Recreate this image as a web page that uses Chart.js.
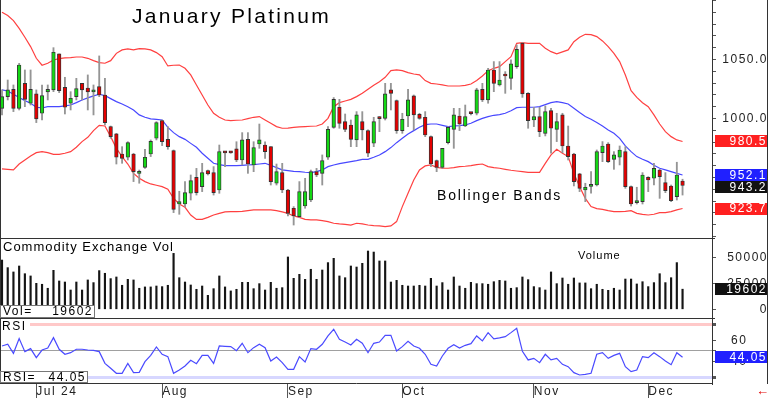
<!DOCTYPE html>
<html>
<head>
<meta charset="utf-8">
<script src="https://cdn.jsdelivr.net/npm/chart.js"></script>
<style>
  body { margin: 0; background: #fff; font-family: "Liberation Sans", Arial, sans-serif; }
  #wrap { position: relative; width: 768px; height: 398px; overflow: hidden; }
  canvas { position: absolute; left: 0; }
  .t { position: absolute; white-space: nowrap; color: #000; line-height: 1; }
  .ln { position: absolute; background: #333; }
  .box { position: absolute; left: 0; background: #fff; border: 1px solid #777; box-sizing: border-box;
         display: flex; justify-content: space-between; font-size: 12px; line-height: 11px;
         letter-spacing: 1.5px; padding: 0 1px 0 2px; }
</style>
</head>
<body>
<div id="wrap">
  <canvas id="priceChart" width="768" height="238" style="top:0"></canvas>
  <canvas id="volChart" width="768" height="80" style="top:238px"></canvas>
  <canvas id="rsiChart" width="768" height="80" style="top:318px"></canvas>

  <div class="ln" style="left:0;top:238px;width:715px;height:1px"></div>
  <div class="ln" style="left:0;top:318px;width:715px;height:1px"></div>
  <div class="ln" style="left:0;top:0;width:1px;height:384px"></div>
  <div class="ln" style="left:767px;top:0;width:1px;height:384px"></div>

  <div class="t" style="left:132px;top:5px;font-size:21px;letter-spacing:2.3px">January Platinum</div>
  <div class="t" style="left:437px;top:188px;font-size:14px;letter-spacing:1.8px">Bollinger Bands</div>
  <div class="t" style="left:3px;top:240px;font-size:13px;letter-spacing:1px">Commodity Exchange Vol</div>
  <div class="t" style="left:578px;top:250px;font-size:11px;letter-spacing:1px">Volume</div>
  <div class="box" style="top:305px;width:95px;height:13px"><span>Vol=</span><span id="volVal"></span></div>
  <div class="t" style="left:1px;top:320px;font-size:12px;letter-spacing:1.5px;background:#fff;padding:0 3px 0 1px">RSI</div>
  <div class="box" style="top:371px;width:88px;height:12px"><span>RSI=</span><span id="rsiVal"></span></div>
  <div class="t" style="left:756px;top:384px;font-size:13px;color:#e00000;font-weight:bold">&#8592;</div>
</div>

<script>
// daily candles, Jun 21 2024 .. Dec 10 2024
const open = [1008.6,1018.5,1024.7,1008.6,1029.8,1012.9,1020.8,1004.4,1022.5,1024.2,
  1054.7,1026.4,1012.9,1018.5,1029.8,1025.8,1022.5,1027.0,1019.9,993.1,
  986.9,969.9,967.1,969.9,953.5,958.6,969.9,983.2,998.2,982.3,
  972.7,927.5,927.5,936.6,950.1,942.2,955.8,954.1,939.4,971.3,
  971.3,974.2,964.8,982.3,960.6,978.4,977.5,976.1,945.1,954.1,
  939.4,923.9,916.8,925.8,930.9,954.9,953.5,967.1,992.5,1009.5,
  997.3,994.5,981.8,997.3,989.7,979.0,1000.4,1000.1,1024.2,1015.1,
  989.7,1002.1,1019.1,1003.5,1001.0,984.6,964.3,958.6,979.5,990.8,
  1002.1,993.6,1004.7,1004.4,1024.7,1015.7,1041.1,1028.4,1037.7,1034.0,
  1043.9,1063.7,1021.3,998.7,1001.6,987.4,1006.6,990.8,1003.0,976.7,
  969.9,953.0,939.4,942.5,943.6,971.0,978.4,965.4,967.1,971.9,
  942.2,928.7,929.5,950.1,949.3,956.3,945.6,942.8,933.8,947.0];
const high = [1024.2,1032.6,1028.4,1046.7,1041.1,1041.1,1024.2,1028.4,1028.4,1060.0,
  1054.7,1034.9,1022.7,1034.0,1029.8,1036.9,1028.4,1053.0,1034.0,993.6,
  987.4,976.1,980.3,970.5,956.3,973.9,981.8,997.3,998.7,993.1,
  973.3,938.3,946.5,952.1,957.7,962.0,956.3,959.2,977.5,971.9,
  971.9,980.3,988.0,988.0,980.3,995.3,980.3,976.1,961.4,962.0,
  940.0,925.3,946.5,949.3,956.3,957.7,969.1,993.1,1017.7,1016.2,
  1003.8,998.7,1005.8,1005.8,990.3,1001.0,1001.6,1029.8,1029.8,1015.7,
  1004.4,1024.7,1019.9,1004.4,1005.8,985.2,964.8,974.7,993.1,1008.6,
  1008.6,1011.4,1005.2,1025.6,1029.8,1042.5,1048.2,1048.2,1039.7,1049.6,
  1062.3,1064.3,1021.9,1009.5,1009.5,1010.6,1008.6,1004.4,1004.4,993.6,
  970.5,953.5,945.1,954.9,973.3,980.4,979.5,971.9,976.7,976.1,
  942.8,941.7,954.1,950.7,962.0,956.9,954.1,943.6,962.9,948.5];
const low = [1003.0,1015.7,1005.8,1007.2,1010.0,1011.4,996.5,998.7,1015.7,1022.7,
  1021.9,1003.8,1007.2,1015.7,1015.7,1007.2,1003.0,1018.5,994.5,983.2,
  961.4,962.0,964.8,946.5,945.1,957.7,967.7,981.8,977.0,973.9,
  920.2,918.8,925.0,930.9,935.1,938.0,952.1,935.1,936.6,959.2,
  970.5,963.4,960.6,953.5,954.9,974.7,966.2,943.6,943.6,937.1,
  917.4,909.7,916.2,923.9,929.5,950.7,943.6,965.4,991.7,991.7,
  988.8,976.1,976.1,981.8,967.7,976.1,988.8,998.7,1007.2,987.4,
  987.4,993.1,990.3,999.3,984.6,959.2,954.9,957.7,978.4,974.7,
  989.7,993.1,1003.0,1003.0,1014.3,1012.9,1022.7,1027.5,1021.3,1024.7,
  1042.5,1017.9,991.7,993.1,984.6,985.2,970.5,980.4,971.0,964.8,
  942.8,938.0,929.5,936.6,942.8,963.4,962.6,956.9,960.6,940.8,
  925.8,927.5,927.5,938.0,943.6,932.3,937.1,929.5,930.9,935.1];
const close = [1018.5,1024.2,1008.6,1045.3,1016.2,1024.7,999.6,1019.4,1024.7,1056.1,
  1023.6,1009.5,1017.1,1025.3,1024.2,1022.5,1023.0,1019.9,996.5,984.6,
  967.1,966.2,979.5,954.9,954.1,967.1,980.6,996.5,980.4,976.1,
  923.0,929.5,937.1,947.3,937.1,954.1,953.0,937.1,971.9,970.8,
  970.8,964.8,981.8,961.4,975.3,981.8,971.9,946.5,954.9,939.4,
  919.6,917.4,938.0,938.0,954.9,952.1,964.3,990.8,1016.2,995.9,
  990.8,982.3,1003.0,990.3,970.5,997.3,999.9,1020.8,1021.3,989.7,
  999.3,1015.7,1003.0,1000.1,986.0,961.4,958.6,974.7,992.5,1003.0,
  995.3,1001.6,1004.1,1024.2,1015.7,1041.1,1029.8,1032.6,1036.0,1046.2,
  1058.6,1020.8,998.2,1001.6,988.8,1005.8,991.7,997.3,976.7,967.7,
  946.5,940.8,941.7,943.1,971.9,976.7,963.4,969.1,973.3,942.2,
  927.5,929.2,952.1,947.9,957.7,950.7,938.8,930.4,952.1,943.2];

const upperBand = [1090.0,1087.2,1082.9,1076.4,1068.8,1060.9,1051.0,1045.1,1046.8,1049.6,
  1050.7,1051.3,1051.6,1052.1,1052.1,1051.0,1049.0,1047.3,1046.8,1049.0,
  1055.2,1058.1,1058.9,1058.1,1059.2,1058.9,1058.1,1055.8,1052.4,1044.5,
  1045.1,1045.3,1042.5,1036.9,1028.4,1019.9,1011.4,1004.4,1001.0,998.7,
  998.2,998.5,998.7,999.9,1001.0,1001.6,998.7,995.9,993.1,991.7,
  991.9,992.5,992.8,993.1,993.4,993.6,995.3,1000.1,1010.0,1013.4,
  1014.8,1016.2,1018.5,1021.3,1024.7,1028.1,1031.2,1034.9,1040.5,1041.1,
  1040.5,1038.8,1037.7,1036.9,1032.1,1029.8,1029.2,1028.4,1027.5,1027.5,
  1027.5,1028.1,1029.2,1032.1,1036.0,1040.5,1042.5,1043.9,1048.2,1052.4,
  1063.7,1064.3,1063.7,1063.7,1063.7,1059.5,1056.6,1054.7,1056.4,1058.1,
  1065.1,1068.8,1071.3,1071.1,1069.4,1065.7,1060.9,1055.2,1048.2,1036.9,
  1023.6,1017.9,1013.4,1010.0,1003.0,995.3,988.8,984.6,981.8,980.5];
const middleBand = [1024.2,1023.3,1020.5,1017.7,1015.1,1012.9,1009.5,1008.9,1010.0,1010.0,
  1010.0,1010.6,1011.4,1013.4,1015.7,1017.4,1019.1,1020.5,1019.4,1016.8,
  1014.3,1012.3,1010.0,1007.2,1003.0,1001.0,999.6,999.3,998.7,992.5,
  988.0,984.6,982.3,978.9,975.6,970.5,966.3,962.0,960.9,960.0,
  960.0,960.0,960.3,960.6,960.9,961.4,962.0,960.3,958.3,956.4,
  955.8,955.2,954.9,954.4,954.1,954.9,956.4,959.2,960.6,961.7,
  962.6,963.4,964.3,965.4,965.4,967.1,969.1,971.9,975.3,979.5,
  983.2,986.9,989.7,992.5,994.8,995.3,995.3,994.2,993.1,993.6,
  993.9,994.5,995.9,998.2,1000.1,1001.6,1002.7,1003.3,1004.4,1006.6,
  1009.2,1009.5,1009.5,1009.5,1010.0,1011.7,1013.4,1014.3,1013.4,1012.3,
  1008.6,1005.0,1001.6,999.3,996.5,993.6,990.3,987.4,983.2,976.7,
  971.9,967.7,965.4,963.4,960.3,957.8,956.4,954.9,953.5,952.1];
const lowerBand = [957.2,956.9,956.4,961.4,964.8,968.2,971.0,971.9,971.0,969.6,
  969.6,970.5,971.9,975.6,980.4,984.0,989.7,994.2,993.6,984.6,
  974.7,967.7,961.4,953.5,949.3,946.5,944.5,943.4,942.2,940.0,
  932.3,927.5,924.7,918.2,914.5,914.5,916.2,918.2,919.6,920.8,
  921.0,921.0,921.3,921.9,922.5,922.5,922.5,922.5,921.9,920.8,
  919.6,917.4,916.2,914.5,914.0,914.0,913.4,912.6,911.2,910.6,
  910.3,909.7,911.2,910.6,909.7,909.2,908.9,908.3,908.9,912.6,
  925.3,936.6,947.9,956.4,959.8,960.6,958.6,957.8,957.8,958.3,
  959.2,959.5,960.0,960.9,961.4,959.2,958.3,957.8,956.9,956.1,
  955.5,954.9,954.4,954.4,954.4,962.0,969.1,973.9,970.5,967.7,
  953.5,942.2,932.3,925.3,923.6,923.0,921.9,921.0,921.0,921.3,
  921.9,919.6,918.8,918.2,918.8,920.2,920.2,921.0,922.5,923.7];

const volume = [48000,40600,36400,42200,34700,32500,25300,24400,20500,38000,
  27600,26600,18800,26600,18800,28600,26000,37700,35100,29900,
  31500,23400,29200,28600,20500,21800,21800,22700,22100,23400,
  54500,30800,26600,23700,19500,22700,13600,20100,32500,21800,
  17900,19500,26300,26300,20100,25000,18800,26300,20500,21100,
  51000,30200,34100,29200,39000,29200,38300,45500,49700,32500,
  30800,42200,41200,44800,56800,55800,47100,47100,26600,28200,
  23400,22700,22700,23400,22700,30200,22700,26000,18800,31500,
  22700,20500,26300,25000,25000,24400,26900,28200,27600,20500,
  21100,31500,28900,22100,21100,18800,36400,25000,30500,24400,
  30500,25700,25700,20100,24400,19500,18500,20500,18800,29500,
  29500,24700,26900,22100,26000,34700,26000,30800,45500,19602];

const rsi = [54.7,56.3,47.8,61.6,49.4,52.2,43.8,50.9,52.8,62.5,
  51.6,46.9,48.4,51.6,51.6,50.9,50.6,49.4,38.4,33.8,
  29.1,29.1,38.4,29.7,30.0,40.0,45.9,53.8,46.9,44.7,
  29.1,32.2,35.9,41.3,38.1,45.9,45.9,38.4,54.7,54.4,
  54.1,50.3,57.2,48.4,53.1,56.3,53.1,40.6,44.4,39.1,
  32.8,32.8,44.7,39.7,52.2,51.6,56.3,64.1,70.3,60.9,
  58.4,55.6,60.9,57.2,48.4,57.2,58.4,64.7,64.7,50.0,
  54.1,59.1,54.7,52.5,46.9,37.5,35.9,45.3,52.5,55.9,
  52.8,55.3,56.9,64.1,59.4,67.2,61.3,62.2,63.4,67.2,
  71.3,49.7,41.6,43.1,39.1,46.9,41.6,43.1,37.5,35.3,
  29.7,27.5,28.1,29.1,46.9,48.4,43.1,45.9,47.8,35.3,
  30.6,32.2,44.7,43.8,48.4,44.7,40.6,37.2,48.4,44.05];

// first trading day of each month, as candle index
const monthStarts = [6, 28, 50, 70, 93, 113];
const monthLabels = ["Jul 24", "Aug", "Sep", "Oct", "Nov", "Dec"];
const priceLabels = [950, 1000, 1050];
const volLabels = [0, 25000, 50000];
const rsiLabels = [40, 60];
const rsiLevels = [25, 50, 75];

const last = (a) => a[a.length - 1];
document.getElementById("volVal").textContent = last(volume);
document.getElementById("rsiVal").textContent = last(rsi).toFixed(2);

Chart.defaults.font.family = '"Liberation Sans", Arial, sans-serif';
Chart.defaults.font.size = 12;
Chart.defaults.color = "#222";

const X_MIN = -0.35, X_MAX = 124.15;

const spacing = {
  id: "spacing",
  beforeUpdate(chart) { chart.ctx.letterSpacing = "1.5px"; },
  beforeDraw(chart) { chart.ctx.letterSpacing = "1.5px"; }
};

// coloured boxes with the latest values on the right axis
function valueBoxes(items) {
  return {
    id: "valueBoxes",
    afterDraw(chart) {
      const ctx = chart.ctx, y = chart.scales.y, h = 12;
      const boxes = items.map(it => ({ ...it, py: y.getPixelForValue(it.value) }))
        .sort((a, b) => a.py - b.py);
      for (let k = 1; k < boxes.length; k++) {
        if (boxes[k].py - boxes[k - 1].py < h) boxes[k].py = boxes[k - 1].py + h;
      }
      ctx.save();
      ctx.font = '12px "Liberation Sans", Arial, sans-serif';
      ctx.letterSpacing = "1.5px";
      ctx.textAlign = "right";
      ctx.textBaseline = "middle";
      const x0 = chart.chartArea.right + 3;
      boxes.forEach(b => {
        ctx.fillStyle = b.bg;
        ctx.fillRect(x0, Math.round(b.py - h / 2), chart.width - x0, h);
        ctx.fillStyle = "#fff";
        ctx.fillText(b.text, chart.width - 1, b.py + 0.5);
      });
      ctx.restore();
    }
  };
}

function rightAxisFit(scale) {
  scale.width = 56;
  scale.paddingTop = 0;
  scale.paddingBottom = 0;
}

const commonX = { type: "linear", display: false, offset: false, min: X_MIN, max: X_MAX };
const baseOptions = {
  responsive: false,
  animation: false,
  events: [],
  layout: { padding: 0 },
  plugins: { legend: { display: false }, tooltip: { enabled: false } }
};

// price panel
const candleColors = close.map((c, i) => (c >= open[i] ? "#14d814" : "#e40000"));
new Chart(document.getElementById("priceChart"), {
  type: "bar",
  data: {
    datasets: [
      { type: "line", data: upperBand.map((v, i) => ({ x: i, y: v })), borderColor: "#ff4040", borderWidth: 1.2, pointRadius: 0, order: 5 },
      { type: "line", data: lowerBand.map((v, i) => ({ x: i, y: v })), borderColor: "#ff4040", borderWidth: 1.2, pointRadius: 0, order: 5 },
      { type: "line", data: middleBand.map((v, i) => ({ x: i, y: v })), borderColor: "#4848ff", borderWidth: 1.2, pointRadius: 0, order: 5 },
      { data: low.map((l, i) => ({ x: i, y: [l, high[i]] })), backgroundColor: "#959595", barThickness: 1.2, grouped: false, order: 4 },
      {
        data: open.map((o, i) => ({ x: i, y: [Math.min(o, close[i]), Math.max(o, close[i])] })),
        backgroundColor: candleColors, borderColor: "#333", borderWidth: 0.9, borderSkipped: false,
        minBarLength: 2, barThickness: 3.6, grouped: false, order: 3
      }
    ]
  },
  options: {
    ...baseOptions,
    scales: {
      x: commonX,
      y: {
        position: "right", min: 898.7, max: 1100.4,
        afterFit: rightAxisFit,
        afterBuildTicks: (s) => {
          const t = [];
          for (let v = 900; v <= 1100; v += 10) t.push({ value: v });
          s.ticks = t;
        },
        ticks: { autoSkip: false, crossAlign: "far", padding: 4, callback: (v) => (priceLabels.includes(v) ? v.toFixed(1) : "") },
        grid: { drawOnChartArea: false, tickLength: 4, tickColor: "#555" },
        border: { color: "#333" }
      }
    }
  },
  plugins: [spacing, valueBoxes([
    { value: last(upperBand), text: last(upperBand).toFixed(1), bg: "#ff2020" },
    { value: last(middleBand), text: last(middleBand).toFixed(1), bg: "#2020ff" },
    { value: last(close), text: last(close).toFixed(1), bg: "#111" },
    { value: last(lowerBand), text: last(lowerBand).toFixed(1), bg: "#ff2020" }
  ])]
});

// volume panel
new Chart(document.getElementById("volChart"), {
  type: "bar",
  data: {
    datasets: [{ data: volume.map((v, i) => ({ x: i, y: v })), backgroundColor: "#151515", barThickness: 1.5 }]
  },
  options: {
    ...baseOptions,
    scales: {
      x: commonX,
      y: {
        position: "right", min: -8480, max: 69490,
        afterFit: rightAxisFit,
        afterBuildTicks: (s) => { s.ticks = volLabels.map(v => ({ value: v })); },
        ticks: { autoSkip: false, crossAlign: "far", padding: 4, callback: (v) => String(v) },
        grid: { drawOnChartArea: false, tickLength: 4, tickColor: "#555" },
        border: { color: "#333" }
      }
    }
  },
  plugins: [spacing, valueBoxes([{ value: last(volume), text: String(last(volume)), bg: "#111" }])]
});

// RSI panel with month axis
const levelColor = { 25: "rgba(140,140,255,0.35)", 50: "#a0a0a0", 75: "rgba(255,120,120,0.4)" };
new Chart(document.getElementById("rsiChart"), {
  type: "line",
  data: {
    datasets: [{ data: rsi.map((v, i) => ({ x: i, y: v })), borderColor: "#4a4aff", borderWidth: 1.2, pointRadius: 0 }]
  },
  options: {
    ...baseOptions,
    scales: {
      x: {
        type: "linear", min: X_MIN, max: X_MAX, offset: false, position: "bottom",
        afterBuildTicks: (s) => { s.ticks = monthStarts.map(v => ({ value: v })); },
        afterFit: (s) => { s.height = 15; s.paddingLeft = 0; s.paddingRight = 0; },
        ticks: { align: "start", padding: -14, autoSkip: false, maxRotation: 0, callback: (v) => monthLabels[monthStarts.indexOf(v)] },
        grid: { drawOnChartArea: false, tickLength: 15, tickColor: "#555" },
        border: { color: "#333" }
      },
      y: {
        position: "right", min: 20, max: 80.9,
        afterFit: rightAxisFit,
        afterBuildTicks: (s) => { s.ticks = [25, 40, 50, 60, 75].map(v => ({ value: v })); },
        ticks: { autoSkip: false, padding: 15, callback: (v) => (rsiLabels.includes(v) ? String(v) : "") },
        grid: {
          color: (c) => levelColor[c.tick && c.tick.value] || "rgba(0,0,0,0)",
          lineWidth: (c) => (rsiLevels.includes(c.tick && c.tick.value) && c.tick.value !== 50 ? 3 : 1),
          tickLength: 4, tickColor: "#555"
        },
        border: { color: "#333" }
      }
    }
  },
  plugins: [spacing, valueBoxes([{ value: last(rsi), text: last(rsi).toFixed(2), bg: "#2020ff" }])]
});
</script>
</body>
</html>
